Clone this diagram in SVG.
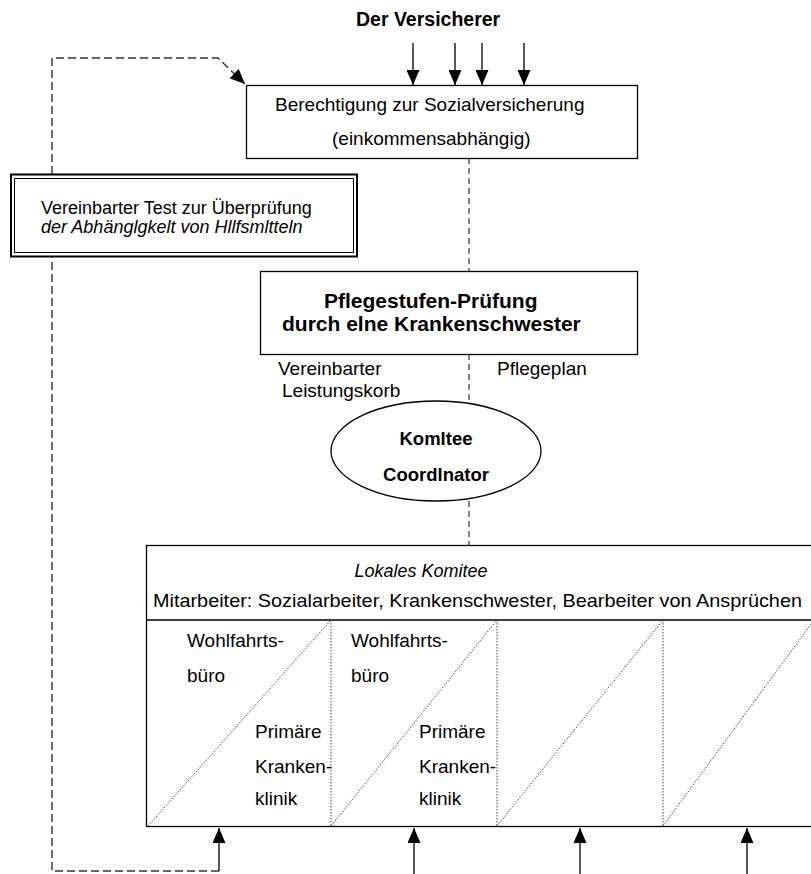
<svg xmlns="http://www.w3.org/2000/svg" width="811" height="874" viewBox="0 0 811 874">
<style>
text{font-family:"Liberation Sans",Arial,sans-serif;fill:#000}
.r{font-size:19px}
.s{font-size:18px}
.b{font-weight:bold}
.i{font-style:italic}
.box{fill:#fff;stroke:#000;stroke-width:1.3}
.dash{fill:none;stroke:#333;stroke-width:1.4;stroke-dasharray:8,4}
.cdash{fill:none;stroke:#333;stroke-width:1.2;stroke-dasharray:6,4}
.solid{fill:none;stroke:#000;stroke-width:1.3}
.dot{fill:none;stroke:#444;stroke-width:1;stroke-dasharray:1.5,1.5}
</style>
<defs>
<marker id="ah" markerUnits="userSpaceOnUse" markerWidth="15" markerHeight="13" refX="15" refY="6.5" orient="auto">
<path d="M0,0 L15,6.5 L0,13 z" fill="#000"/>
</marker>
</defs>
<rect width="811" height="874" fill="#fff"/>
<g id="connectors">
<path class="dash" d="M219,871 H52 V58 H218 L245,84" marker-end="url(#ah)"/>
<line class="solid" x1="219" y1="871" x2="219" y2="828" marker-end="url(#ah)"/>
<line class="solid" x1="414" y1="874" x2="414" y2="828" marker-end="url(#ah)"/>
<line class="solid" x1="580" y1="874" x2="580" y2="828" marker-end="url(#ah)"/>
<line class="solid" x1="747" y1="874" x2="747" y2="828" marker-end="url(#ah)"/>
<line class="solid" x1="413" y1="43" x2="413" y2="85" marker-end="url(#ah)"/>
<line class="solid" x1="455" y1="43" x2="455" y2="85" marker-end="url(#ah)"/>
<line class="solid" x1="482" y1="43" x2="482" y2="85" marker-end="url(#ah)"/>
<line class="solid" x1="524" y1="43" x2="524" y2="85" marker-end="url(#ah)"/>
<line class="cdash" x1="469" y1="158" x2="469" y2="271"/>
<line class="cdash" x1="469" y1="354" x2="469" y2="401"/>
<line class="cdash" x1="469" y1="501" x2="469" y2="545"/>
</g>
<g id="versicherer">
<text class="b" x="356" y="26" font-size="19.5">Der Versicherer</text>
</g>
<g id="berechtigung">
<rect class="box" x="246.5" y="85.5" width="391" height="73"/>
<text class="r" x="275" y="111" font-size="19.5">Berechtigung zur Sozialversicherung</text>
<text class="r" x="332" y="145" font-size="19.5">(einkommensabhängig)</text>
</g>
<g id="test">
<rect x="11" y="174.5" width="346" height="82" fill="#fff" stroke="#000" stroke-width="2"/>
<rect x="14.5" y="178.5" width="339" height="74" fill="none" stroke="#000" stroke-width="1"/>
<text class="s" x="41" y="214">Vereinbarter Test zur Überprüfung</text>
<text class="s i" x="41" y="233">der Abhänglgkelt von Hllfsmltteln</text>
</g>
<g id="pflegestufen">
<rect class="box" x="260.5" y="271.5" width="377" height="83"/>
<text class="b" x="324" y="308" font-size="21">Pflegestufen-Prüfung</text>
<text class="b" x="282" y="331" font-size="21">durch elne Krankenschwester</text>
</g>
<g id="labels">
<text class="r" x="278" y="375">Vereinbarter</text>
<text class="r" x="282" y="397">Leistungskorb</text>
<text class="r" x="497" y="375">Pflegeplan</text>
</g>
<g id="koordinator">
<ellipse class="box" cx="436" cy="451" rx="105" ry="50"/>
<text class="b" x="436" y="445" font-size="18.5" text-anchor="middle">Komltee</text>
<text class="b" x="436" y="481" font-size="18.5" text-anchor="middle">Coordlnator</text>
</g>
<g id="lokales-komitee">
<rect class="box" x="146.5" y="545.5" width="670" height="281"/>
<line class="solid" x1="146" y1="620" x2="811" y2="620"/>
<text class="s i" x="421" y="577" text-anchor="middle">Lokales Komitee</text>
<text class="r" x="153" y="607" font-size="19.5" textLength="649" lengthAdjust="spacingAndGlyphs">Mitarbeiter: Sozialarbeiter, Krankenschwester, Bearbeiter von Ansprüchen</text>
<line class="dot" x1="331" y1="620" x2="331" y2="826"/>
<line class="dot" x1="497" y1="620" x2="497" y2="826"/>
<line class="dot" x1="663" y1="620" x2="663" y2="826"/>
<line class="dot" x1="148" y1="826" x2="331" y2="620"/>
<line class="dot" x1="331" y1="826" x2="497" y2="620"/>
<line class="dot" x1="497" y1="826" x2="663" y2="620"/>
<line class="dot" x1="663" y1="826" x2="814" y2="620"/>
<text class="r" x="187" y="647">Wohlfahrts-</text>
<text class="r" x="187" y="682">büro</text>
<text class="r" x="255" y="738">Primäre</text>
<text class="r" x="255" y="773">Kranken-</text>
<text class="r" x="255" y="805">klinik</text>
<text class="r" x="351" y="647">Wohlfahrts-</text>
<text class="r" x="351" y="682">büro</text>
<text class="r" x="419" y="738">Primäre</text>
<text class="r" x="419" y="773">Kranken-</text>
<text class="r" x="419" y="805">klinik</text>
</g>
</svg>
